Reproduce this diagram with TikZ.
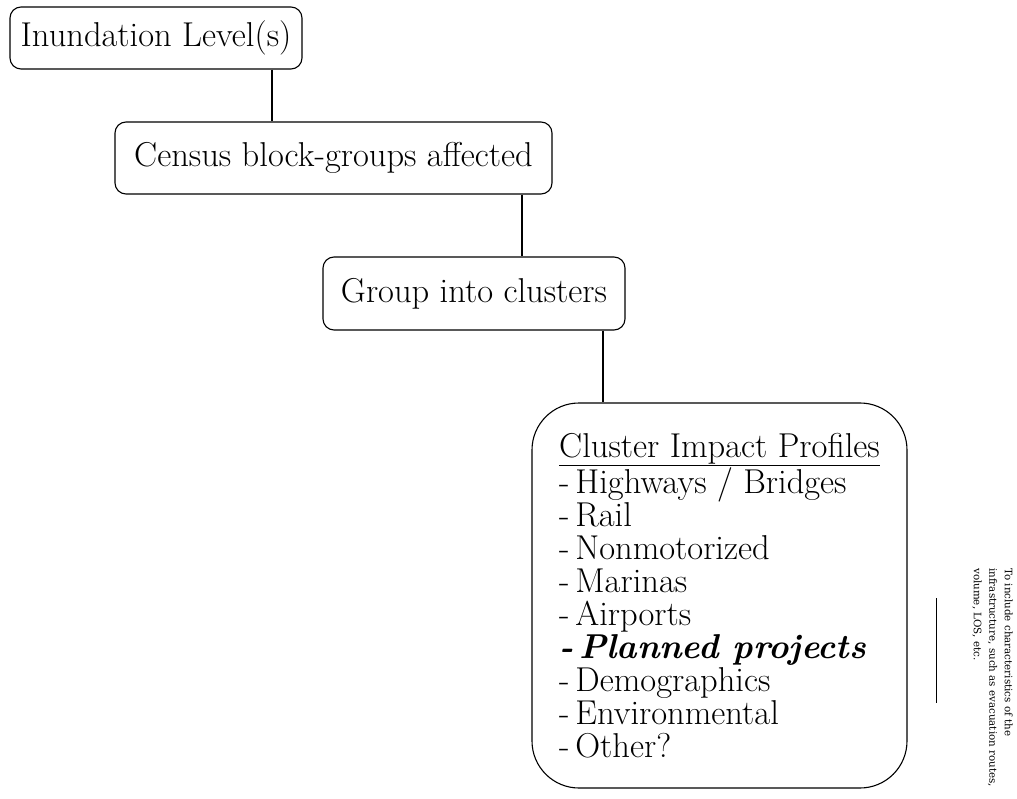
\documentclass[tikz,border=0pt]{standalone}
\usepackage{fontspec}
\newfontfamily\notefont{DejaVu Serif}
\tikzset{
  stage/.style={draw, line width=1.1pt, rounded corners=11pt, inner sep=0pt, font=\fontsize{34.5}{33}\selectfont},
  profile/.style={draw, line width=1.1pt, rounded corners=47pt, inner sep=0pt, align=left, font=\fontsize{34.5}{33}\selectfont},
  link/.style={line width=1.1pt}
}
\begin{document}
\begin{tikzpicture}[x=1pt,y=-1pt]
\useasboundingbox (0,0) rectangle (1017,799);

\node[stage, minimum width=292pt, minimum height=62pt] (inund) at (156,38) {Inundation Level(s)};
\node[stage, minimum width=437pt, minimum height=72pt] (census) at (333.5,158) {Census block-groups affected};
\node[stage, minimum width=302pt, minimum height=73pt] (group) at (474,293.5) {Group into clusters};
\node[profile, minimum width=375pt, minimum height=385pt] (profiles) at (719.5,595.5) {%
\underline{Cluster Impact Profiles}\\
-\,Highways / Bridges\\
-\,Rail\\
-\,Nonmotorized\\
-\,Marinas\\
-\,Airports\\
\textbf{\textit{-\,Planned projects}}\\
-\,Demographics\\
-\,Environmental\\
-\,Other?};

\draw[link] ([xshift=116pt]inund.south) -- ([xshift=116pt]inund.south |- census.north);
\draw[link] ([xshift=188.5pt]census.south) -- ([xshift=188.5pt]census.south |- group.north);
\draw[link] ([xshift=129pt]group.south) -- ([xshift=129pt]group.south |- profiles.north);

% side note
\node[rotate=-90, anchor=north west, align=left, inner sep=0pt,
      font=\notefont\fontsize{10.3}{15.5}\selectfont] (note) at (1013,568)
  {To include characteristics of the\\infrastructure, such as evacuation routes,\\volume, LOS, etc.};
\draw[line width=0.8pt] (936,598) -- (936,703);

\end{tikzpicture}
\end{document}
